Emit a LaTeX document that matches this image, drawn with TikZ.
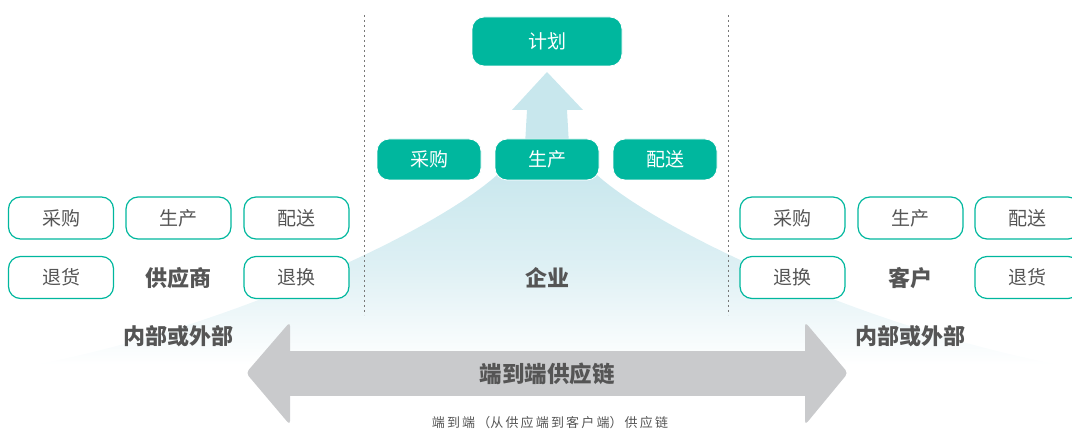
\documentclass[tikz,border=0pt]{standalone}
\usepackage{fontspec}
\setmainfont{Noto Sans CJK SC}
\definecolor{teal1}{RGB}{0,183,158}
\definecolor{txt}{RGB}{85,85,85}
\definecolor{fanblue}{RGB}{200,231,237}
\definecolor{arrgray}{RGB}{201,202,204}
\definecolor{dashgray}{RGB}{120,120,120}
\tikzset{
  outbox/.style={draw=teal1, line width=1.2pt, fill=white, rounded corners=12pt, minimum width=105pt, minimum height=42pt, inner sep=0pt, text=txt, font=\fontsize{19}{21}\selectfont},
  fillbox/.style={fill=teal1, draw=white, line width=0.8pt, rounded corners=12pt, minimum width=104pt, minimum height=41pt, inner sep=0pt, text=white, font=\fontsize{19}{21}\selectfont},
  biglabel/.style={text=txt, font=\bfseries\fontsize{22}{24}\selectfont, inner sep=0pt},
  vdash/.style={draw=dashgray, line width=0.8pt, dash pattern=on 2.5pt off 2.5pt}
}
\begin{document}
\begin{tikzpicture}[x=1pt,y=-1pt]
\useasboundingbox (0,0) rectangle (1072,430);
\clip (0,0) rectangle (1072,430);
% fan
\shade[top color=fanblue, bottom color=white, middle color={rgb,255:red,222;green,240;blue,244}]
  (500,168) -- (594,168) -- (597,175) .. controls (664,235) and (874,330) .. (1061,365)
  -- (33,365) .. controls (220,330) and (430,235) .. (497,175) -- cycle;
% up arrow
\fill[fanblue] (525,145) -- (527,110) -- (512,110) -- (547,72) -- (583,110) -- (567,110) -- (569,145) -- cycle;
% dashed separators
\coordinate (d1t) at (364,15); \coordinate (d1b) at (364,315);
\coordinate (d2t) at (728,15); \coordinate (d2b) at (728,315);
\draw[vdash] (d1t) -- (d1b);
\draw[vdash] (d2t) -- (d2b);
% double arrow
\fill[arrgray] (289,351) rectangle (806,396);
\fill[arrgray, rounded corners=4pt] (290,322) -- (246,373) -- (290,425) -- cycle;
\fill[arrgray, rounded corners=4pt] (805,322) -- (848,373) -- (805,425) -- cycle;
\node[biglabel, font=\bfseries\fontsize{22.5}{24}\selectfont] (e2e) at (547,374) {端到端供应链};
\node[text=txt, font=\fontsize{13}{15}\selectfont, inner sep=0pt] (cap) at (550,423) {端\,到\,端\,（从\,供\,应\,端\,到\,客\,户\,端）\,供\,应\,链};
% top plan
\node[fillbox, minimum width=150pt, minimum height=49pt] (plan) at (547,41.5) {计划};
\node[fillbox] (mbuy) at (429,159.5) {采购};
\node[fillbox] (mmake) at (547,159.5) {生产};
\node[fillbox] (mdel) at (665,159.5) {配送};
\node[biglabel] (ent) at (547,278) {企业};
% supplier
\node[outbox] (sbuy) at (61,218) {采购};
\node[outbox] (smake) at (178.5,218) {生产};
\node[outbox] (sdel) at (296.5,218) {配送};
\node[outbox] (sret) at (61,277.5) {退货};
\node[biglabel] (sup) at (178.5,278) {供应商};
\node[outbox] (sexc) at (296.5,277.5) {退换};
\node[biglabel] (sio) at (178.5,336) {内部或外部};
% customer
\node[outbox] (cbuy) at (792.5,218) {采购};
\node[outbox] (cmake) at (910.5,218) {生产};
\node[outbox] (cdel) at (1027.5,218) {配送};
\node[outbox] (cexc) at (792.5,277.5) {退换};
\node[biglabel] (cus) at (910.5,278) {客户};
\node[outbox] (cret) at (1027.5,277.5) {退货};
\node[biglabel] (cio) at (910.5,336) {内部或外部};
\end{tikzpicture}
\end{document}
